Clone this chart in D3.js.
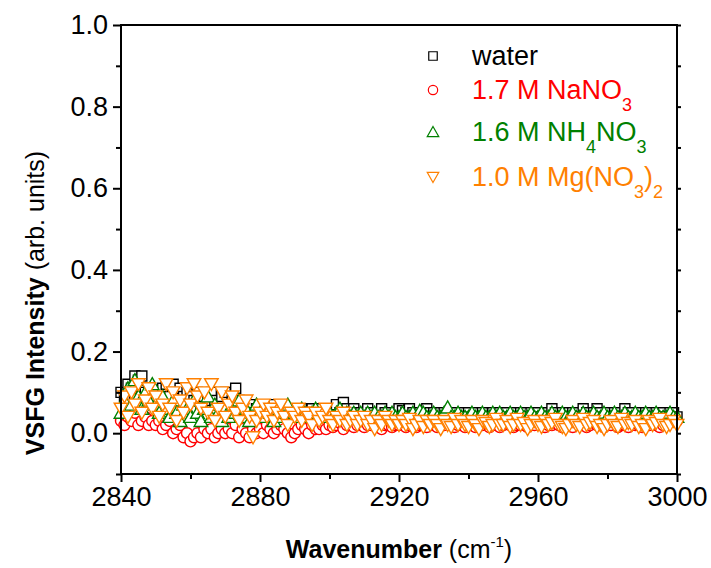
<!DOCTYPE html>
<html>
<head>
<meta charset="utf-8">
<script src="https://cdn.jsdelivr.net/npm/d3@7"></script>
<style>
  body { margin: 0; background: #fff; }
  text { font-family: Arial, "Liberation Sans", sans-serif; }
</style>
</head>
<body>
<div id="chart"></div>
<script>
// wavenumber axis, 1 cm-1 steps
var wavenumbers = d3.range(2840, 3001, 1);

var water = [
  0.10,0.09,0.12,0.11,0.14,0.13,0.14,0.10,0.11,0.09,
  0.10,0.08,0.11,0.12,0.09,0.12,0.08,0.11,0.09,0.10,
  0.09,0.08,0.10,0.07,0.09,0.08,0.10,0.08,0.07,0.09,
  0.10,0.07,0.08,0.11,0.08,0.07,0.06,0.07,0.05,0.06,
  0.07,0.06,0.05,0.06,0.07,0.05,0.06,0.05,0.06,0.05,
  0.06,0.05,0.06,0.05,0.04,0.06,0.05,0.06,0.05,0.05,
  0.06,0.05,0.07,0.05,0.075,0.06,0.05,0.06,0.05,0.05,
  0.05,0.06,0.05,0.04,0.05,0.06,0.05,0.05,0.04,0.05,
  0.06,0.055,0.05,0.06,0.05,0.04,0.05,0.05,0.06,0.05,
  0.05,0.04,0.05,0.05,0.04,0.05,0.05,0.04,0.05,0.04,
  0.05,0.04,0.05,0.04,0.05,0.04,0.04,0.05,0.04,0.05,
  0.04,0.05,0.04,0.05,0.04,0.05,0.05,0.04,0.05,0.04,
  0.05,0.04,0.05,0.05,0.06,0.05,0.04,0.05,0.04,0.05,
  0.05,0.05,0.04,0.06,0.05,0.04,0.05,0.06,0.05,0.04,
  0.05,0.04,0.05,0.05,0.04,0.06,0.05,0.05,0.04,0.05,
  0.04,0.05,0.05,0.04,0.05,0.04,0.05,0.04,0.05,0.05,
  0.04
];

var nano3 = [
  0.03,0.02,0.04,0.03,0.05,0.02,0.03,0.04,0.02,0.03,
  0.02,0.03,0.01,0.02,0.03,0.00,0.01,0.02,-0.01,0.00,
  -0.02,-0.01,0.00,-0.01,0.01,0.00,0.01,-0.01,0.00,0.01,
  0.00,0.01,0.00,0.02,-0.01,0.01,0.00,-0.01,0.01,0.00,
  0.01,0.00,0.02,0.01,0.00,0.01,0.02,0.01,0.00,-0.01,
  0.00,0.01,0.02,0.01,0.00,0.02,0.01,0.01,0.02,0.01,
  0.02,0.015,0.02,0.025,0.01,0.02,0.02,0.015,0.02,0.02,
  0.015,0.02,0.02,0.025,0.015,0.01,0.02,0.02,0.015,0.02,
  0.02,0.025,0.015,0.02,0.02,0.015,0.02,0.02,0.015,0.025,
  0.02,0.015,0.02,0.02,0.025,0.02,0.015,0.02,0.02,0.015,
  0.025,0.02,0.015,0.02,0.02,0.025,0.015,0.02,0.02,0.015,
  0.02,0.025,0.02,0.015,0.02,0.02,0.025,0.015,0.02,0.02,
  0.025,0.02,0.015,0.02,0.02,0.025,0.02,0.015,0.02,0.02,
  0.015,0.025,0.02,0.02,0.015,0.02,0.025,0.02,0.02,0.015,
  0.02,0.02,0.025,0.015,0.02,0.02,0.015,0.025,0.02,0.02,
  0.015,0.02,0.02,0.025,0.02,0.015,0.02,0.03,0.04,0.03,
  0.03
];

var nh4no3 = [
  0.05,0.08,0.11,0.07,0.13,0.09,0.06,0.10,0.08,0.12,
  0.07,0.05,0.09,0.06,0.04,0.08,0.05,0.03,0.07,0.06,
  0.04,0.08,0.05,0.03,0.06,0.09,0.04,0.07,0.05,0.03,
  0.06,0.04,0.07,0.05,0.08,0.04,0.06,0.03,0.05,0.07,
  0.05,0.04,0.06,0.05,0.03,0.06,0.04,0.05,0.07,0.04,
  0.05,0.04,0.06,0.05,0.04,0.05,0.06,0.04,0.05,0.04,
  0.05,0.04,0.05,0.06,0.04,0.05,0.04,0.05,0.04,0.05,
  0.04,0.05,0.04,0.05,0.04,0.04,0.05,0.04,0.05,0.04,
  0.04,0.05,0.04,0.04,0.05,0.04,0.055,0.05,0.04,0.04,
  0.05,0.04,0.04,0.05,0.063,0.04,0.04,0.05,0.04,0.04,
  0.04,0.05,0.04,0.04,0.05,0.04,0.04,0.05,0.04,0.05,
  0.04,0.04,0.05,0.04,0.04,0.05,0.04,0.04,0.05,0.04,
  0.04,0.05,0.04,0.04,0.05,0.04,0.04,0.05,0.04,0.04,
  0.05,0.04,0.04,0.05,0.04,0.04,0.05,0.04,0.04,0.05,
  0.04,0.04,0.05,0.04,0.04,0.05,0.04,0.04,0.05,0.04,
  0.04,0.05,0.04,0.04,0.05,0.04,0.04,0.04,0.05,0.04,
  0.04
];

var mgno32 = [
  0.06,0.09,0.04,0.10,0.07,0.12,0.05,0.08,0.11,0.06,
  0.09,0.04,0.07,0.12,0.06,0.10,0.03,0.08,0.05,0.11,
  0.07,0.12,0.09,0.06,0.10,0.05,0.12,0.03,0.06,0.10,
  0.04,0.07,0.09,0.05,0.03,0.06,0.08,0.04,-0.01,0.03,
  0.05,0.07,0.04,0.06,0.03,0.05,0.07,0.04,0.02,0.05,
  0.04,0.06,0.03,0.05,0.04,0.02,0.05,0.03,0.04,0.06,
  0.03,0.02,0.04,0.03,0.05,0.02,0.03,0.04,0.02,0.03,
  0.04,0.02,0.03,0.01,0.03,0.02,0.04,0.03,0.02,0.03,
  0.02,0.03,0.02,0.035,0.01,0.02,0.03,0.015,0.03,0.02,
  0.03,0.02,0.01,0.03,0.02,0.015,0.035,0.02,0.03,0.02,
  0.015,0.03,0.02,0.01,0.03,0.025,0.015,0.02,0.035,0.02,
  0.02,0.03,0.015,0.02,0.035,0.02,0.025,0.01,0.02,0.03,
  0.02,0.015,0.03,0.02,0.025,0.035,0.02,0.015,0.01,0.02,
  0.03,0.02,0.015,0.035,0.02,0.025,0.03,0.015,0.02,0.01,
  0.02,0.03,0.02,0.015,0.035,0.02,0.025,0.02,0.03,0.015,
  0.02,0.01,0.03,0.02,0.025,0.035,0.02,0.015,0.02,0.03,
  0.02
];

var xTicks = [2840, 2880, 2920, 2960, 3000];
var xMinor = [2860, 2900, 2940, 2980];
var yTicks = [0.0, 0.2, 0.4, 0.6, 0.8, 1.0];
var yMinor = [-0.1, 0.1, 0.3, 0.5, 0.7, 0.9];

var W = 711, H = 568;
var m = {left: 121, right: 34, top: 25, bottom: 94};

var svg = d3.select('#chart').append('svg')
  .attr('width', W)
  .attr('height', H);

var x = d3.scaleLinear().domain([2840, 3000]).range([m.left, W - m.right]);
var y = d3.scaleLinear().domain([-0.1, 1.0]).range([H - m.bottom, m.top]);

// markers
var series = [
  {name: 'water', values: water, color: '#000000', shape: 'square'},
  {name: 'nano3', values: nano3, color: '#ff0000', shape: 'circle'},
  {name: 'nh4no3', values: nh4no3, color: '#008000', shape: 'up'},
  {name: 'mgno32', values: mgno32, color: '#ff8000', shape: 'down'}
];

function shapePath(shape) {
  if (shape === 'square') return 'M-5,-5H5V5H-5Z';
  if (shape === 'circle') return d3.symbol().type(d3.symbolCircle).size(95)();
  if (shape === 'up') return 'M0,-6.5L6.8,5.5H-6.8Z';
  return 'M0,6.5L6.8,-5.5H-6.8Z';
}

var plot = svg.append('g');
series.forEach(function(s) {
  plot.selectAll('.pt-' + s.name)
    .data(s.values)
    .enter()
    .append('path')
    .attr('class', 'pt-' + s.name)
    .attr('d', shapePath(s.shape))
    .attr('transform', function(d, i) {
      return 'translate(' + x(wavenumbers[i]) + ',' + y(d) + ')';
    })
    .attr('fill', 'white')
    .attr('stroke', s.color)
    .attr('stroke-width', 1.4);
});

// frame
var axisG = svg.append('g').attr('stroke', '#000').attr('stroke-width', 2);
axisG.append('rect')
  .attr('x', m.left).attr('y', m.top)
  .attr('width', W - m.right - m.left)
  .attr('height', H - m.bottom - m.top)
  .attr('fill', 'none');

// bottom axis
var xAxis = svg.append('g')
  .attr('transform', 'translate(0,' + (H - m.bottom) + ')')
  .call(d3.axisBottom(x).tickValues(xTicks).tickSize(8).tickSizeOuter(0).tickPadding(5).tickFormat(d3.format('d')));
var xAxisMinor = svg.append('g')
  .attr('transform', 'translate(0,' + (H - m.bottom) + ')')
  .call(d3.axisBottom(x).tickValues(xMinor).tickSize(5).tickSizeOuter(0).tickFormat(''));

// left axis
var yAxis = svg.append('g')
  .attr('transform', 'translate(' + m.left + ',0)')
  .call(d3.axisLeft(y).tickValues(yTicks).tickSize(8).tickSizeOuter(0).tickPadding(5).tickFormat(d3.format('.1f')));
var yAxisMinor = svg.append('g')
  .attr('transform', 'translate(' + m.left + ',0)')
  .call(d3.axisLeft(y).tickValues(yMinor).tickSize(5).tickSizeOuter(0).tickFormat(''));

// right axis ticks
svg.append('g')
  .attr('transform', 'translate(' + (W - m.right) + ',0)')
  .call(d3.axisRight(y).tickValues(yTicks.concat(yMinor)).tickSize(4).tickSizeOuter(0).tickFormat(''));

svg.selectAll('.domain').remove();
svg.selectAll('.tick line').attr('stroke', '#000').attr('stroke-width', 2);
svg.selectAll('.tick text')
  .attr('font-size', 27)
  .attr('fill', '#000')
  .style('font-family', 'Arial, "Liberation Sans", sans-serif');

// axis titles
var yTitle = svg.append('text')
  .attr('transform', 'translate(44,303) rotate(-90)')
  .attr('text-anchor', 'middle')
  .attr('font-size', 25);
yTitle.append('tspan').attr('font-weight', 'bold').text('VSFG Intensity');
yTitle.append('tspan').text(' (arb. units)');

var xTitle = svg.append('text')
  .attr('x', (m.left + W - m.right) / 2)
  .attr('y', 558)
  .attr('text-anchor', 'middle')
  .attr('font-size', 25);
xTitle.append('tspan').attr('font-weight', 'bold').text('Wavenumber');
xTitle.append('tspan').text(' (cm');
xTitle.append('tspan').attr('font-size', 15).attr('dy', -11).text('-1');
xTitle.append('tspan').attr('dy', 11).text(')');

// legend
var legendRows = [
  {y: 56, color: '#000000', shape: 'square', parts: [['water', 0]]},
  {y: 90, color: '#ff0000', shape: 'circle', parts: [['1.7 M NaNO', 0], ['3', 1]]},
  {y: 132, color: '#008000', shape: 'up', parts: [['1.6 M NH', 0], ['4', 1], ['NO', 0], ['3', 1]]},
  {y: 177, color: '#ff8000', shape: 'down', parts: [['1.0 M Mg(NO', 0], ['3', 1], [')', 0], ['2', 1]]}
];

var legend = svg.append('g');
legendRows.forEach(function(r) {
  legend.append('path')
    .attr('d', shapePath(r.shape))
    .attr('transform', 'translate(433,' + r.y + ') scale(0.85)')
    .attr('fill', 'white')
    .attr('stroke', r.color)
    .attr('stroke-width', 1.4);
  var t = legend.append('text')
    .attr('x', 472)
    .attr('y', r.y + 9)
    .attr('font-size', 27)
    .attr('fill', r.color);
  var prevSub = 0;
  r.parts.forEach(function(p) {
    var sp = t.append('tspan').text(p[0]);
    if (p[1]) {
      sp.attr('font-size', 18).attr('dy', 12 - prevSub);
      prevSub = 12;
    } else {
      sp.attr('dy', -prevSub);
      prevSub = 0;
    }
  });
});
</script>
</body>
</html>
